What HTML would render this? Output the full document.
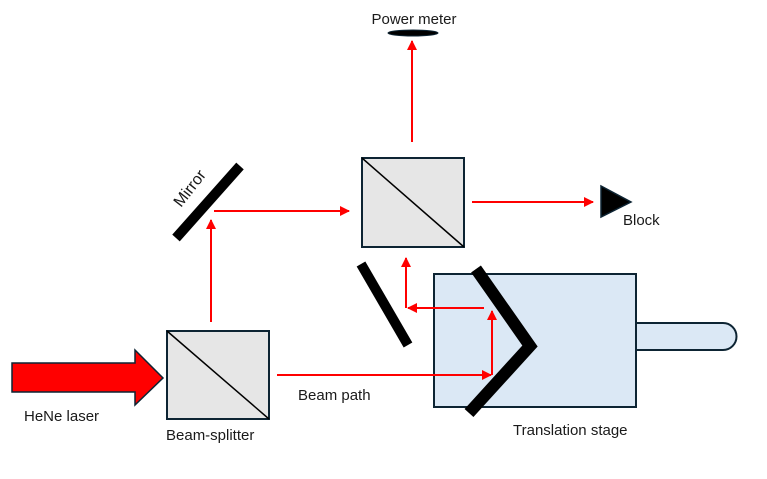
<!DOCTYPE html>
<html><head><meta charset="utf-8"><style>
html,body{margin:0;padding:0;background:#fff}
svg{display:block}
text{font-family:"Liberation Sans",sans-serif;font-size:15px;fill:#1a1a1a}
</style></head><body>
<svg width="767" height="479" viewBox="0 0 767 479" xmlns="http://www.w3.org/2000/svg">
<defs>
<marker id="a" viewBox="0 0 10 10" refX="9" refY="5" markerWidth="5" markerHeight="5" orient="auto-start-reverse">
<path d="M0,0 L10,5 L0,10 z" fill="#ff0000"/></marker>
</defs>
<!-- stage -->
<path d="M636,323 L723,323 A13.5,13.5 0 0 1 723,350 L636,350 Z" fill="#dbe8f5" stroke="#0d2433" stroke-width="2"/>
<rect x="434" y="274" width="202" height="133" fill="#dbe8f5" stroke="#0d2433" stroke-width="2"/>
<!-- beam splitters -->
<rect x="167" y="331" width="102" height="88" fill="#e6e6e6" stroke="#0d2433" stroke-width="2"/>
<line x1="167" y1="331" x2="269" y2="419" stroke="#000" stroke-width="1.5"/>
<rect x="362" y="158" width="102" height="89" fill="#e6e6e6" stroke="#0d2433" stroke-width="2"/>
<line x1="362" y1="158" x2="464" y2="247" stroke="#000" stroke-width="1.5"/>
<!-- laser arrow -->
<path d="M12,363 L135,363 L135,350 L163,378 L135,405 L135,392 L12,392 Z" fill="#ff0000" stroke="#0d2433" stroke-width="1.5"/>
<!-- mirrors -->
<line x1="176" y1="238" x2="240" y2="166" stroke="#000" stroke-width="10"/>
<line x1="361" y1="264" x2="408" y2="345" stroke="#000" stroke-width="10"/>
<polyline points="476,269 530,346 469,413" fill="none" stroke="#000" stroke-width="12"/>
<!-- power meter -->
<ellipse cx="413" cy="33" rx="25" ry="3" fill="#000" stroke="#0d2433" stroke-width="1"/>
<!-- block -->
<polygon points="601,186 601,217 631,202" fill="#000" stroke="#0d2433" stroke-width="1.5"/>
<!-- beams -->
<g stroke="#ff0000" stroke-width="2" fill="none" marker-end="url(#a)">
<line x1="211" y1="322" x2="211" y2="220"/>
<line x1="214" y1="211" x2="349" y2="211"/>
<line x1="412" y1="142" x2="412" y2="41"/>
<line x1="472" y1="202" x2="593" y2="202"/>
<line x1="277" y1="375" x2="491" y2="375"/>
<line x1="492" y1="375" x2="492" y2="311"/>
<line x1="484" y1="308" x2="408" y2="308"/>
<line x1="406" y1="308" x2="406" y2="258"/>
</g>
<!-- labels -->
<text x="414" y="24" text-anchor="middle">Power meter</text>
<text x="623" y="225">Block</text>
<text x="24" y="421">HeNe laser</text>
<text x="166" y="440">Beam-splitter</text>
<text x="298" y="400">Beam path</text>
<text x="513" y="435">Translation stage</text>
<text x="0" y="0" transform="translate(181,208) rotate(-52)" style="font-size:16px">Mirror</text>
</svg>
</body></html>
